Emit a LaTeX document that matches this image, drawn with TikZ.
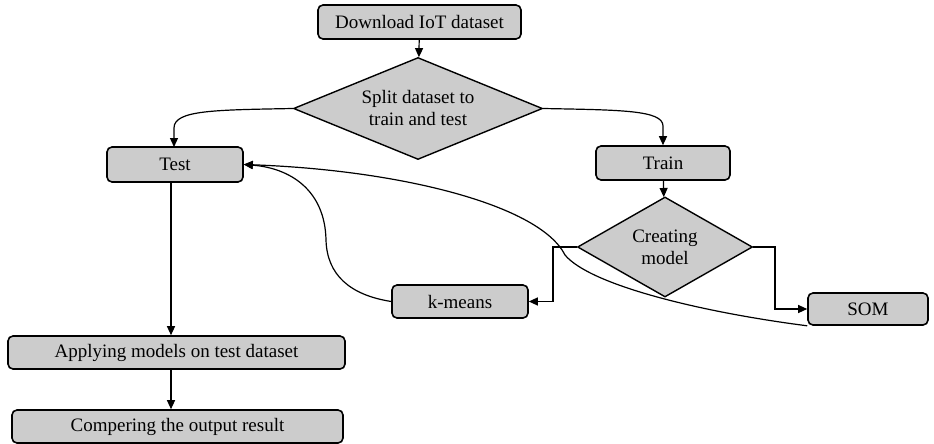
\documentclass[tikz,border=0pt]{standalone}
\usepackage{fontspec}
\setmainfont{Liberation Serif}
\usetikzlibrary{shapes.geometric,arrows.meta,calc}
\definecolor{boxgray}{RGB}{204,204,204}
\begin{document}
\begin{tikzpicture}[x=1pt,y=-1pt,
  every node/.style={font=\fontsize{19}{22}\selectfont, inner sep=0pt},
  procbox/.style={draw, fill=boxgray, line width=1.6pt, rounded corners=5pt, minimum width=#1, align=center},
  decbox/.style={draw, fill=boxgray, line width=1.4pt, diamond, shape aspect=2, align=center},
  conn/.style={line width=1.2pt, -{Triangle[length=9pt,width=8pt]}},
  plain/.style={line width=1.2pt}]
\useasboundingbox (0,0) rectangle (934,444);
\node[procbox=203pt, minimum height=34pt] (download) at (419.5,22) {Download IoT dataset};
\node[decbox, minimum width=249pt, minimum height=102pt] (split) at (418,108.5) {Split dataset to\\train and test};
\node[procbox=136pt, minimum height=35pt] (test) at (175,164.5) {Test};
\node[procbox=134pt, minimum height=34pt] (train) at (663,163) {Train};
\node[decbox, minimum width=175pt, minimum height=100pt] (creating) at (665,247) {Creating\\model};
\node[procbox=136pt, minimum height=33pt] (kmeans) at (460,301.5) {k-means};
\node[procbox=120pt, minimum height=32pt] (som) at (868,309) {SOM};
\node[procbox=337pt, minimum height=33pt] (applying) at (176.5,352.5) {Applying models on test dataset};
\node[procbox=331pt, minimum height=33pt] (compering) at (177.5,426.5) {Compering the output result};

\draw[conn] (download) -- (split);
\draw[conn] (split.west) .. controls (215,110) and (174,110) .. (174,128) -- (174,147);
\draw[conn] (split.east) .. controls (620,110) and (663,110) .. (663,126) -- (train.north);
\draw[conn] (train) -- (creating);
\draw[conn] (creating.west) -- (553,247) |- (kmeans.east);
\draw[conn] (creating.east) -- (775,247) |- (som.west);
\draw[conn] (test.south -| 171,0) -- (applying.north -| 171,0);
\draw[conn] (applying.south -| 171,0) -- (compering.north -| 171,0);
\draw[conn] (kmeans.west) .. controls (350,295) and (327,275) .. (326,240)
  .. controls (325,190) and (290,168) .. (test.east);
\draw[conn] (som.south west) .. controls (700,312) and (590,285) .. (565,255)
  .. controls (540,205) and (400,170) .. (test.east);
\end{tikzpicture}
\end{document}
